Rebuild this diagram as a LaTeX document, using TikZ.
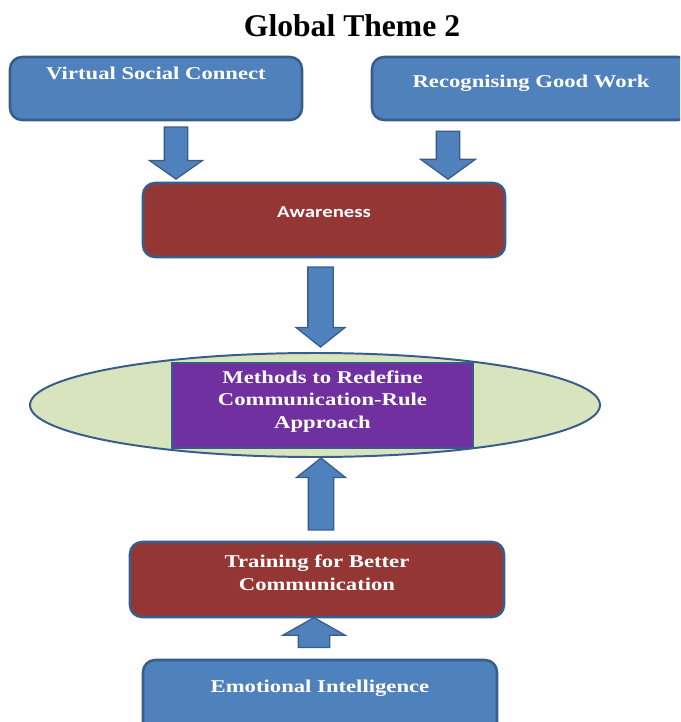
\documentclass[tikz,border=0pt]{standalone}
\usepackage{fontspec}
\setmainfont{Liberation Serif}
\newfontfamily\boxfont[FakeStretch=1.26]{Liberation Serif}
\newfontfamily\tagfont[FakeStretch=1.25]{Carlito}
\usetikzlibrary{shapes.geometric,shapes.arrows}
\definecolor{boxblue}{HTML}{4F81BD}
\definecolor{edgeblue}{HTML}{385D8A}
\definecolor{boxred}{HTML}{943634}
\definecolor{boxpurple}{HTML}{7030A0}
\definecolor{ovalgreen}{HTML}{D7E4BD}
\begin{document}
\begin{tikzpicture}[
			box/.style={rectangle, rounded corners=0.3cm, draw=edgeblue, line width=1.8pt, text=white, align=center, inner sep=0pt, text height=0.3cm, font=\boxfont\bfseries\fontsize{12.8}{16}\selectfont},
			bluebox/.style={box, fill=boxblue},
			redbox/.style={box, fill=boxred},
			blockarrow/.style={single arrow, fill=boxblue, draw=edgeblue, line width=0.9pt, inner xsep=0pt, inner ysep=0.275cm, minimum width=0pt, single arrow head extend=0.375cm}
			]
			\useasboundingbox (0,0) rectangle (17,-18.05);
			\clip (0,0) rectangle (17,-18.05);
			\node[font=\bfseries\fontsize{22.5}{27}\selectfont] (title) at (8.8,-0.65) {Global Theme 2};
			% top row
			\node[bluebox, minimum width=7.3cm, minimum height=1.575cm, text depth=0.725cm] (virtual) at (3.9,-2.2125) {Virtual Social Connect};
			\node[bluebox, minimum width=7.95cm, minimum height=1.575cm, text depth=0.325cm] (recog) at (13.275,-2.2125) {Recognising Good Work};
			\node[redbox, minimum width=9.05cm, minimum height=1.85cm, text depth=0.45cm, font=\tagfont\bfseries\fontsize{11.8}{14}\selectfont] (aware) at (8.1,-5.5) {Awareness};
			% middle: oval with the purple block on it
			\node[ellipse, fill=ovalgreen, draw=edgeblue, line width=1.4pt, minimum width=14.25cm, minimum height=2.6cm] (oval) at (7.875,-10.125) {};
			\node[box, rounded corners=0pt, fill=boxpurple, minimum width=7.525cm, minimum height=2.125cm, text height=1.225cm, text depth=0.1cm] (methods) at (8.0625,-10.1375) {Methods to Redefine\\Communication-Rule\\Approach};
			% bottom
			\node[redbox, minimum width=9.35cm, minimum height=1.875cm, text height=0.625cm, text depth=0.1cm] (training) at (7.925,-14.4875) {Training for Better\\Communication};
			\node[bluebox, minimum width=8.85cm, minimum height=1.925cm, text depth=0.625cm] (emotion) at (8.0,-17.4625) {Emotional Intelligence};
			% block arrows (minimum height = length)
			\node[blockarrow, rotate=-90, minimum height=1.3cm, single arrow tip angle=110] (a1) at (4.4,-3.725) {};
			\node[blockarrow, rotate=-90, minimum height=1.2cm, single arrow head extend=0.4cm, single arrow tip angle=108] (a2) at (11.2,-3.775) {};
			\node[blockarrow, rotate=-90, minimum height=2cm, inner ysep=0.3cm, single arrow head extend=0.3cm, single arrow tip angle=103] (a3) at (8.0125,-7.55) {};
			\node[blockarrow, rotate=90, minimum height=1.8cm, inner ysep=0.3cm, single arrow head extend=0.3cm, single arrow tip angle=103] (a4) at (8.025,-12.475) {};
			\node[blockarrow, rotate=90, minimum height=0.75cm, inner ysep=0.375cm, single arrow head extend=0.3875cm, single arrow tip angle=121] (a5) at (7.85,-15.925) {};
		\end{tikzpicture}
\end{document}
